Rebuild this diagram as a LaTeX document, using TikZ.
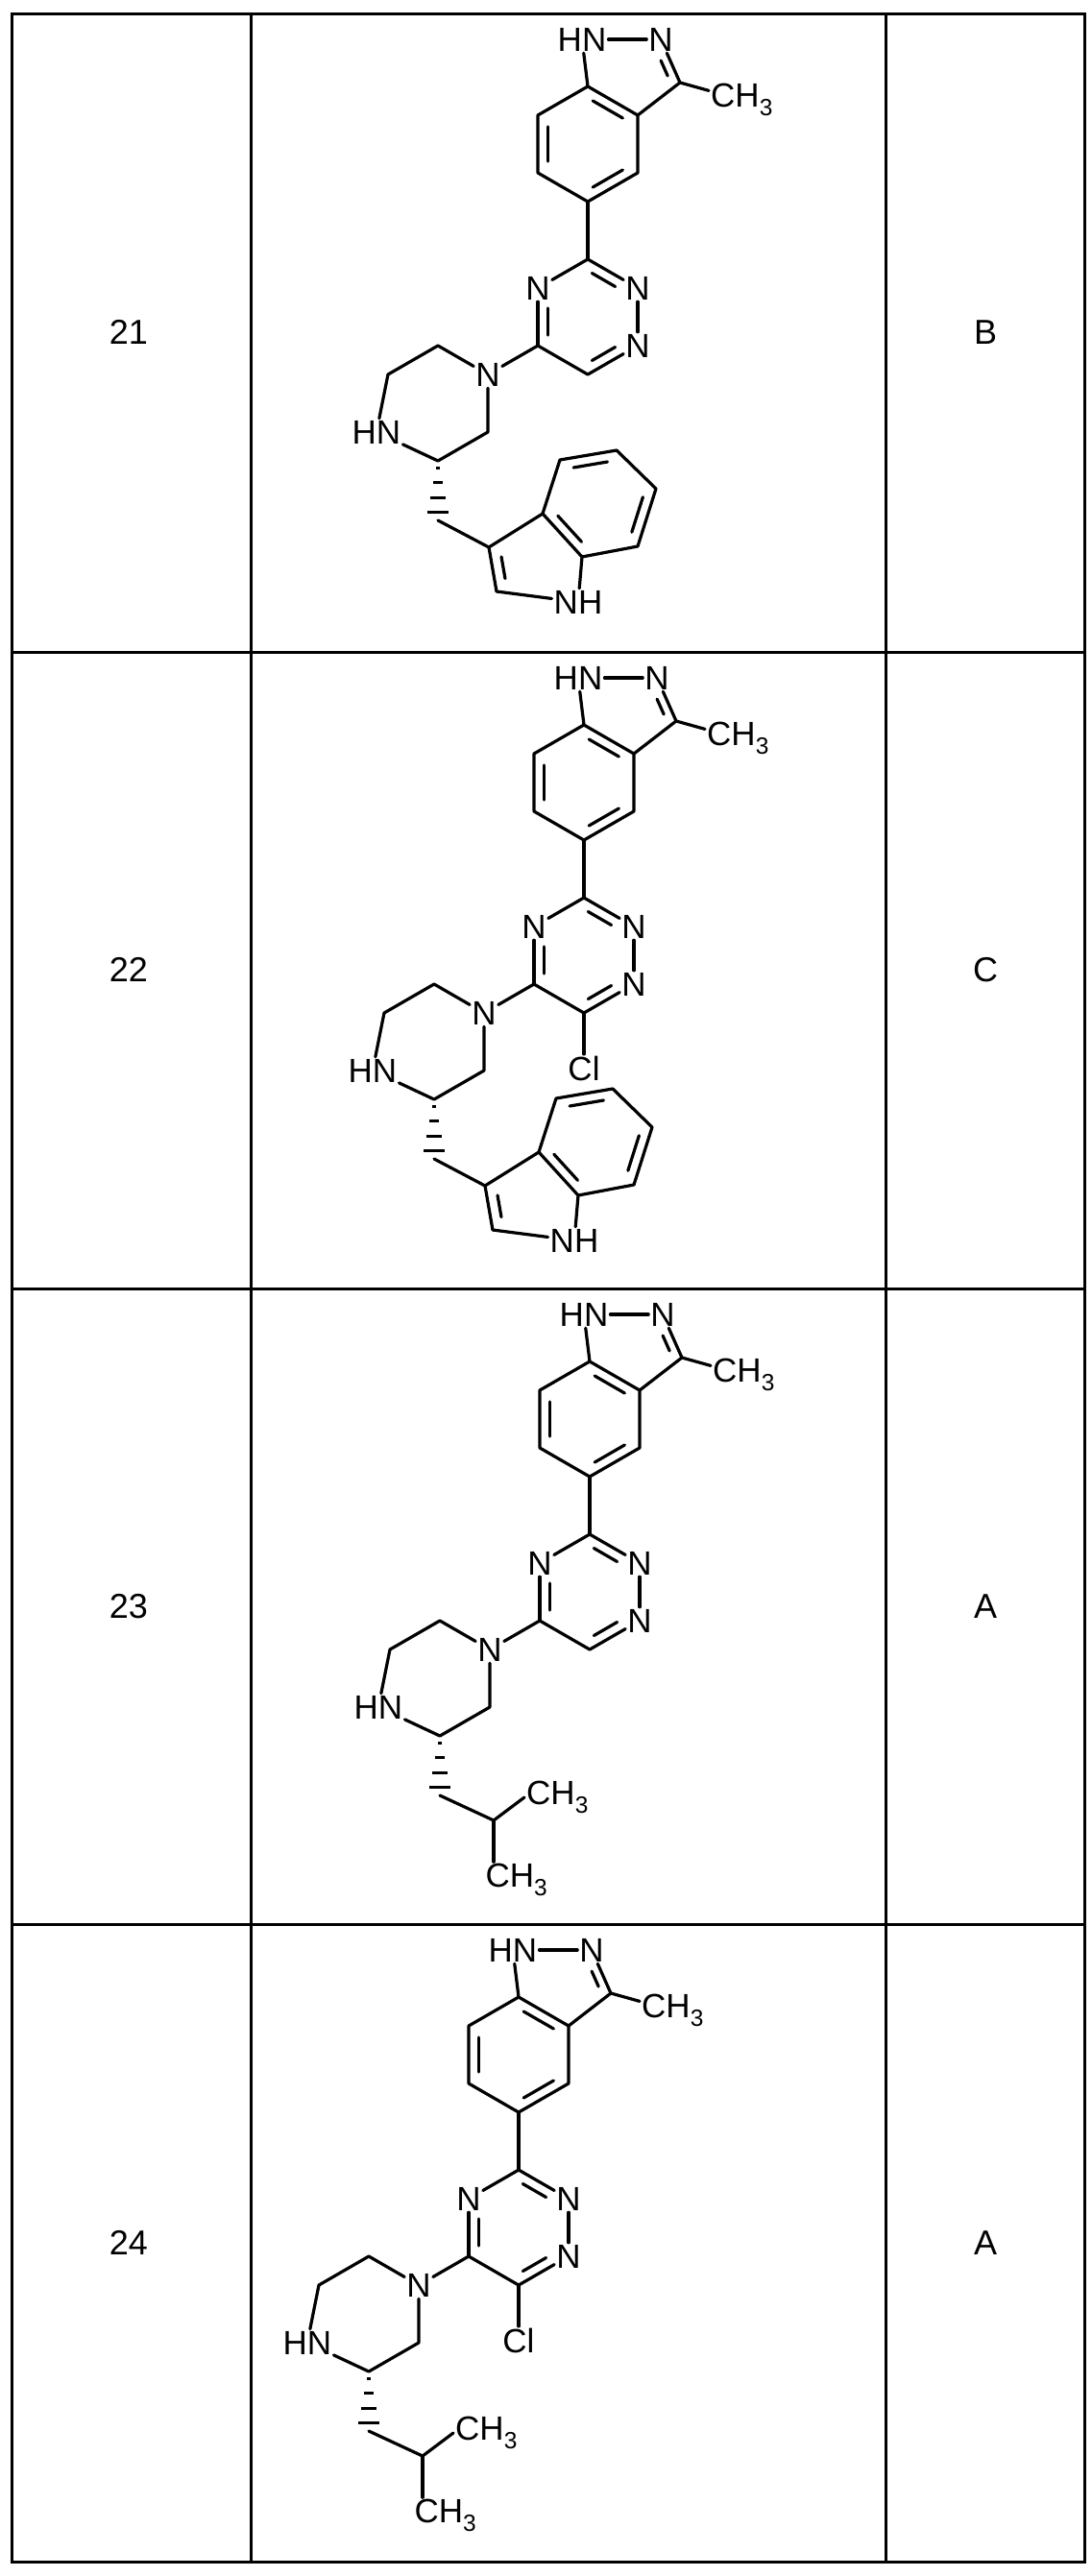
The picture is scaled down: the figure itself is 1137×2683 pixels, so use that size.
\documentclass[tikz,border=0pt]{standalone}
\usepackage{fontspec}
\setmainfont{Liberation Sans}
\usetikzlibrary{calc}
\tikzset{
  atm/.style={inner sep=2pt,font=\fontsize{35}{40}\selectfont},
  bond/.style={line width=3.2pt,line cap=round,line join=round},
  tbl/.style={line width=3pt},
  cell/.style={font=\fontsize{36}{40}\selectfont}
}
\newcommand\inr[4]{\draw[bond,shorten <=#4,shorten >=#4] ($(#1)!0.2!(#3)$) -- ($(#2)!0.2!(#3)$);}
\newcommand\core{%
  \coordinate (a7a) at (612,76); \coordinate (a3a) at (664,106); \coordinate (a4) at (664,166);
  \coordinate (a5) at (612,196); \coordinate (a6) at (560,166); \coordinate (a7) at (560,106);
  \coordinate (bc) at (612,136); \coordinate (pc) at (659,61); \coordinate (tc) at (612,316);
  \node[atm] (n1) at (606,27) {HN};
  \node[atm] (n2) at (688,27) {N};
  \coordinate (c3) at (708,72);
  \node[atm,anchor=west] (me) at (738,90) {CH\textsubscript{3}};
  \coordinate (t3) at (612,256); \node[atm] (t2) at (664,286) {N}; \node[atm] (t1) at (664,346) {N};
  \coordinate (t6) at (612,376); \coordinate (t5) at (560,346); \node[atm] (t4) at (560,286) {N};
  \node[atm] (pn) at (508,376) {N}; \coordinate (p1) at (456,346); \coordinate (p2) at (404,376);
  \node[atm] (phn) at (392,436) {HN}; \coordinate (p4) at (456,466); \coordinate (p5) at (508,436);
  \coordinate (ch2) at (456,528);
  \draw[bond] (a7a) -- (a3a) -- (a4) -- (a5) -- (a6) -- (a7) -- cycle;
  \draw[bond] (a7a) -- (n1); \draw[bond] (n1) -- (n2); \draw[bond] (n2) -- (c3);
  \draw[bond] (c3) -- (a3a); \draw[bond] (c3) -- (me);
  \inr{a7a}{a3a}{bc}{6pt} \inr{a4}{a5}{bc}{6pt} \inr{a6}{a7}{bc}{6pt}
  \draw[bond,shorten <=16pt,shorten >=5pt] ($(n2)!0.22!(pc)$) -- ($(c3)!0.22!(pc)$);
  \draw[bond] (a5) -- (t3);
  \draw[bond] (t3) -- (t2); \draw[bond] (t2) -- (t1); \draw[bond] (t1) -- (t6);
  \draw[bond] (t6) -- (t5); \draw[bond] (t5) -- (t4); \draw[bond] (t4) -- (t3);
  \draw[bond,shorten <=5pt,shorten >=15pt] ($(t3)!0.2!(tc)$) -- ($(t2)!0.2!(tc)$);
  \draw[bond,shorten <=5pt,shorten >=15pt] ($(t6)!0.2!(tc)$) -- ($(t1)!0.2!(tc)$);
  \draw[bond,shorten <=5pt,shorten >=15pt] ($(t5)!0.2!(tc)$) -- ($(t4)!0.2!(tc)$);
  \draw[bond] (t5) -- (pn);
  \draw[bond] (pn) -- (p1) -- (p2) -- (phn);
  \draw[bond] (phn) -- (p4) -- (p5) -- (pn);
  \foreach \t/\w in {0.12/2,0.37/5,0.62/8,0.87/11}
    \draw[line width=3pt] ($(p4)!\t!(ch2)$) ++(-\w,0) -- ++(2*\w,0);
}
\newcommand\indole{%
  \coordinate (i3) at (509,556); \coordinate (i3a) at (565,521); \coordinate (i4) at (583,465);
  \coordinate (i5) at (642,455); \coordinate (i6) at (683,495); \coordinate (i7) at (664,555);
  \coordinate (i7a) at (606,566); \coordinate (i2) at (517,602);
  \node[atm] (inh) at (602,613) {NH};
  \coordinate (ic) at (624,510); \coordinate (yc) at (557,572);
  \draw[bond] (ch2) -- (i3);
  \draw[bond] (i3) -- (i3a) -- (i4) -- (i5) -- (i6) -- (i7) -- (i7a) -- (i3a);
  \draw[bond] (i7a) -- (inh); \draw[bond] (inh) -- (i2); \draw[bond] (i2) -- (i3);
  \inr{i3a}{i7a}{ic}{6pt} \inr{i4}{i5}{ic}{6pt} \inr{i6}{i7}{ic}{6pt}
  \draw[bond,shorten <=6pt,shorten >=6pt] ($(i2)!0.25!(yc)$) -- ($(i3)!0.25!(yc)$);
}
\newcommand\ibu{%
  \coordinate (cb) at (512,554);
  \node[atm,anchor=west] (m1) at (544,530) {CH\textsubscript{3}};
  \node[atm] (m2) at (536,616) {CH\textsubscript{3}};
  \draw[bond] (ch2) -- (cb); \draw[bond] (cb) -- (m1.west);
  \draw[bond] (cb) -- (cb |- m2.north);
}
\newcommand\chl{%
  \node[atm] (cl) at (612,434) {Cl};
  \draw[bond] (t6) -- (cl);
}
\begin{document}
\begin{tikzpicture}[x=1pt,y=-1pt]
\useasboundingbox (0,0) rectangle (1137,2683);
\fill[white] (0,0) rectangle (1137,2683);
\draw[tbl] (12,14) rectangle (1129,2668);
\draw[tbl] (261,14) -- (261,2668);
\draw[tbl] (922,14) -- (922,2668);
\draw[tbl] (12,679) -- (1129,679);
\draw[tbl] (12,1342) -- (1129,1342);
\draw[tbl] (12,2004) -- (1129,2004);
\node[cell] (k21) at (134,346) {21};
\node[cell] (k22) at (134,1010) {22};
\node[cell] (k23) at (134,1673) {23};
\node[cell] (k24) at (134,2336) {24};
\node[cell] (r21) at (1026,346) {B};
\node[cell] (r22) at (1026,1010) {C};
\node[cell] (r23) at (1026,1673) {A};
\node[cell] (r24) at (1026,2336) {A};
\begin{scope}[shift={(0,14)},name prefix=ma-] \core \indole \end{scope}
\begin{scope}[shift={(-4,679)},name prefix=mb-] \core \indole \chl \end{scope}
\begin{scope}[shift={(2,1342)},name prefix=mc-] \core \ibu \end{scope}
\begin{scope}[shift={(-72,2004)},name prefix=md-] \core \ibu \chl \end{scope}
\end{tikzpicture}
\end{document}
